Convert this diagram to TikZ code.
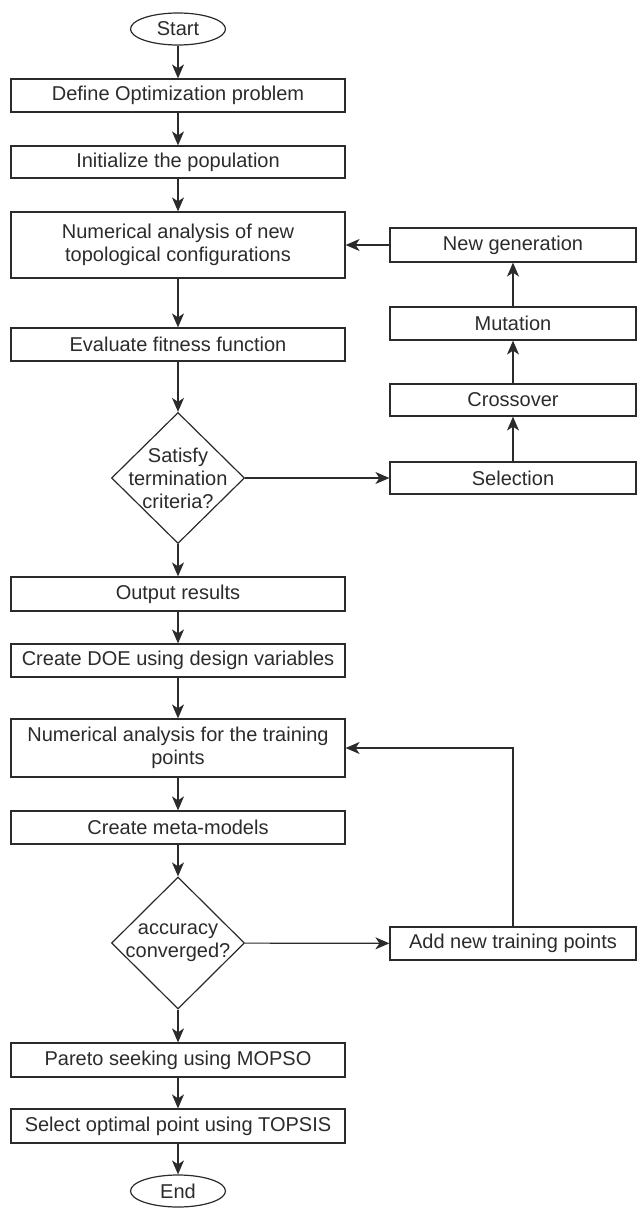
\documentclass[tikz,border=0pt]{standalone}
\usepackage{fontspec}
\setmainfont{Liberation Sans}
\usetikzlibrary{shapes.geometric,arrows.meta}
\definecolor{ink}{HTML}{2B2B2B}
\begin{document}
\begin{tikzpicture}[x=1pt,y=-1pt,
  every node/.style={font=\fontsize{20}{23}\selectfont, text=ink},
  box/.style={draw=ink, line width=1.2pt, rectangle, minimum width=334pt, inner sep=2pt, align=center},
  rbox/.style={draw=ink, line width=1.2pt, rectangle, minimum width=246pt, minimum height=33pt, inner sep=2pt, align=center},
  term/.style={draw=ink, line width=1.2pt, ellipse, minimum width=95pt, minimum height=32pt, inner sep=0pt},
  decide/.style={draw=ink, line width=1.2pt, diamond, minimum width=133pt, minimum height=131pt, inner sep=0pt},
  arr/.style={draw=ink, line width=1.2pt, -{Stealth[length=14pt,width=12pt,inset=4pt]}}
]
\useasboundingbox (0,0) rectangle (637,1208);
\node[term] (start) at (178,29) {Start};
\node[box, minimum height=33pt] (define) at (178,95.5) {Define Optimization problem};
\node[box, minimum height=32pt] (init) at (178,162) {Initialize the population};
\node[box, minimum height=66pt] (numtop) at (178,245) {Numerical analysis of new\\topological configurations};
\node[box, minimum height=33pt] (eval) at (178,344.5) {Evaluate fitness function};
\node[decide, label={[align=center, font=\fontsize{20}{23}\selectfont, text=ink]center:Satisfy\\termination\\criteria?}] (term1) at (178,478) {};
\node[box, minimum height=34pt] (output) at (178,594) {Output results};
\node[box, minimum height=33pt] (doe) at (178,660.5) {Create DOE using design variables};
\node[box, minimum height=58pt] (train) at (178,748) {Numerical analysis for the training\\points};
\node[box, minimum height=33pt] (meta) at (178,827.5) {Create meta-models};
\node[decide, minimum height=132pt, label={[align=center, font=\fontsize{20}{23}\selectfont, text=ink]center:accuracy\\converged?}] (acc) at (178,943) {};
\node[box, minimum height=34pt] (pareto) at (178,1060) {Pareto seeking using MOPSO};
\node[box, minimum height=34pt] (topsis) at (178,1126) {Select optimal point using TOPSIS};
\node[term] (end) at (178,1191) {End};

\node[rbox, minimum height=34pt] (newgen) at (513,245) {New generation};
\node[rbox] (mut) at (513,323.5) {Mutation};
\node[rbox, minimum height=32pt] (cross) at (513,400) {Crossover};
\node[rbox, minimum height=32pt] (sel) at (513,478) {Selection};
\node[rbox] (add) at (513,943.5) {Add new training points};

\draw[arr] (start) -- (define);
\draw[arr] (define) -- (init);
\draw[arr] (init) -- (numtop);
\draw[arr] (numtop) -- (eval);
\draw[arr] (eval) -- (term1);
\draw[arr] (term1) -- (output);
\draw[arr] (term1) -- (sel);
\draw[arr] (sel) -- (cross);
\draw[arr] (cross) -- (mut);
\draw[arr] (mut) -- (newgen);
\draw[arr] (newgen) -- (numtop);
\draw[arr] (output) -- (doe);
\draw[arr] (doe) -- (train);
\draw[arr] (train) -- (meta);
\draw[arr] (meta) -- (acc);
\draw[arr] (acc) -- (add);
\draw[arr] (add.north) |- (train.east);
\draw[arr] (acc) -- (pareto);
\draw[arr] (pareto) -- (topsis);
\draw[arr] (topsis) -- (end);
\end{tikzpicture}
\end{document}
